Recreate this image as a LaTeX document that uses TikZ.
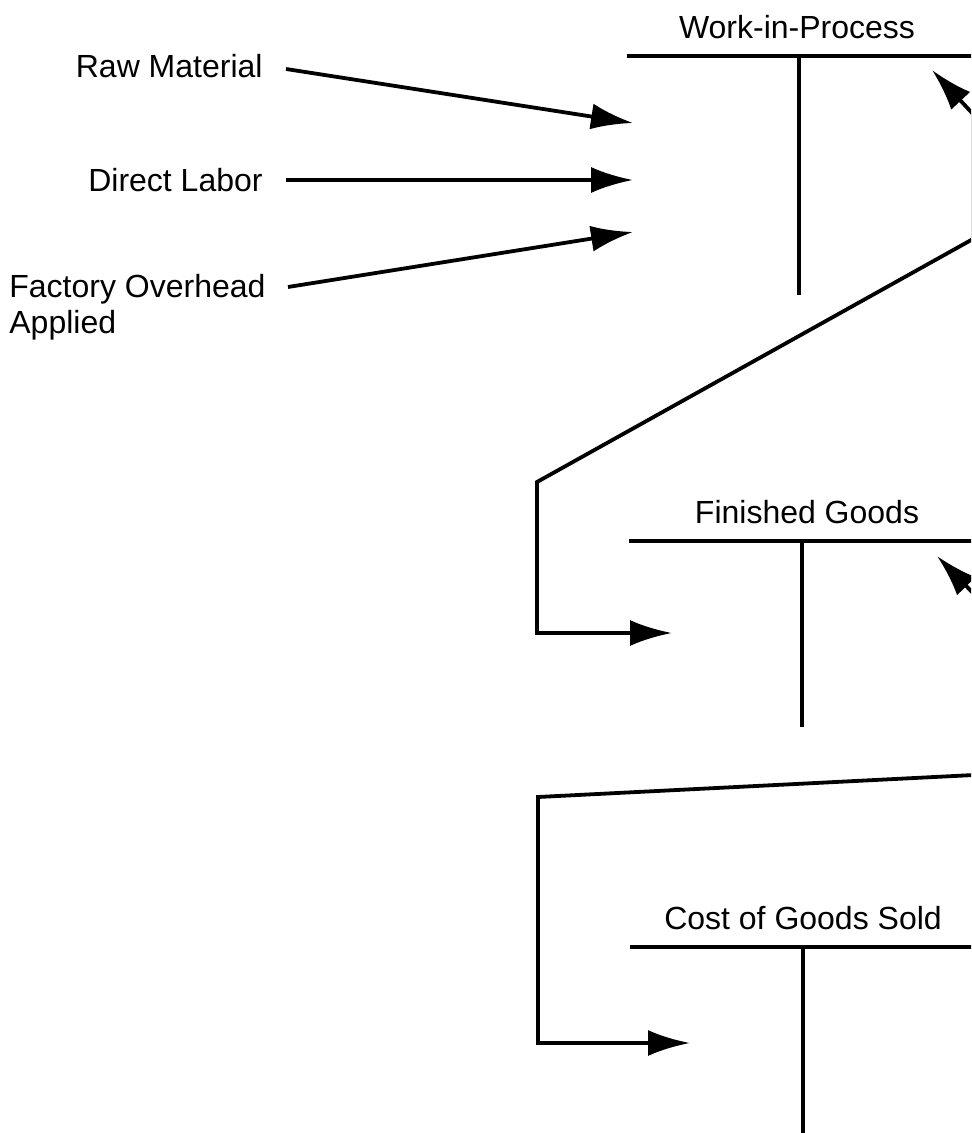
\documentclass[tikz,border=0pt]{standalone}
\usepackage{fontspec}
\setmainfont{Liberation Sans}
\usetikzlibrary{arrows.meta}
\begin{document}
\begin{tikzpicture}[x=0.5pt,y=-0.5pt,
  tip/.tip={Latex[length=21pt,width=13pt]},
  flow/.style={line width=1.9pt,-tip},
  twoway/.style={line width=1.9pt,tip-tip,line join=miter},
  rule/.style={line width=1.9pt},
  lbl/.style={font=\fontsize{16}{18}\selectfont,inner sep=0pt}]
\useasboundingbox (0,0) rectangle (971,1133);
\clip (0,0) rectangle (971,1133);

% cost inputs
\node[lbl,anchor=east] (rm) at (263,66) {Raw Material};
\node[lbl,anchor=east] (dl) at (263,180) {Direct Labor};
\node[lbl,anchor=west,align=left] (foh) at (9,307) {Factory Overhead\\Applied};

% Work-in-Process account
\node[lbl] (wip) at (797,27) {Work-in-Process};
\coordinate (wipL) at (627,56);
\coordinate (wipR) at (990,56);
\coordinate (wipT) at (799,56);
\coordinate (wipB) at (799,295);
\draw[rule] (wipL) -- (wipR);
\draw[rule] (wipT) -- (wipB);

% Finished Goods account
\node[lbl] (fg) at (807,512) {Finished Goods};
\coordinate (fgL) at (629,541);
\coordinate (fgR) at (990,541);
\coordinate (fgT) at (802,541);
\coordinate (fgB) at (802,727);
\draw[rule] (fgL) -- (fgR);
\draw[rule] (fgT) -- (fgB);

% Cost of Goods Sold account
\node[lbl] (cgs) at (803,918) {Cost of Goods Sold};
\coordinate (cgsL) at (630,947);
\coordinate (cgsR) at (990,947);
\coordinate (cgsT) at (803,947);
\coordinate (cgsB) at (803,1140);
\draw[rule] (cgsL) -- (cgsR);
\draw[rule] (cgsT) -- (cgsB);

% debits into Work-in-Process
\coordinate (rmS) at (286,69);
\coordinate (rmE) at (633,123);
\coordinate (dlS) at (286,180);
\coordinate (dlE) at (633,180);
\coordinate (fohS) at (288,287);
\coordinate (fohE) at (633,232);
\draw[flow] (rmS) -- (rmE);
\draw[flow] (dlS) -- (dlE);
\draw[flow] (fohS) -- (fohE);

% transfer: Work-in-Process to Finished Goods
\coordinate (wipCr) at (932,70);
\coordinate (k1) at (973,114);
\coordinate (k2) at (973,239);
\coordinate (k3) at (537,482);
\coordinate (k4) at (537,633);
\coordinate (fgDr) at (672,633);
\draw[twoway] (wipCr) -- (k1) -- (k2) -- (k3) -- (k4) -- (fgDr);

% transfer: Finished Goods to Cost of Goods Sold
\coordinate (fgCr) at (937,556);
\coordinate (k5) at (974,594);
\coordinate (k6) at (974,775);
\coordinate (k7) at (538,797);
\coordinate (k8) at (538,1043);
\coordinate (cgsDr) at (690,1043);
\draw[twoway] (fgCr) -- (k5) -- (k6) -- (k7) -- (k8) -- (cgsDr);
\end{tikzpicture}
\end{document}
